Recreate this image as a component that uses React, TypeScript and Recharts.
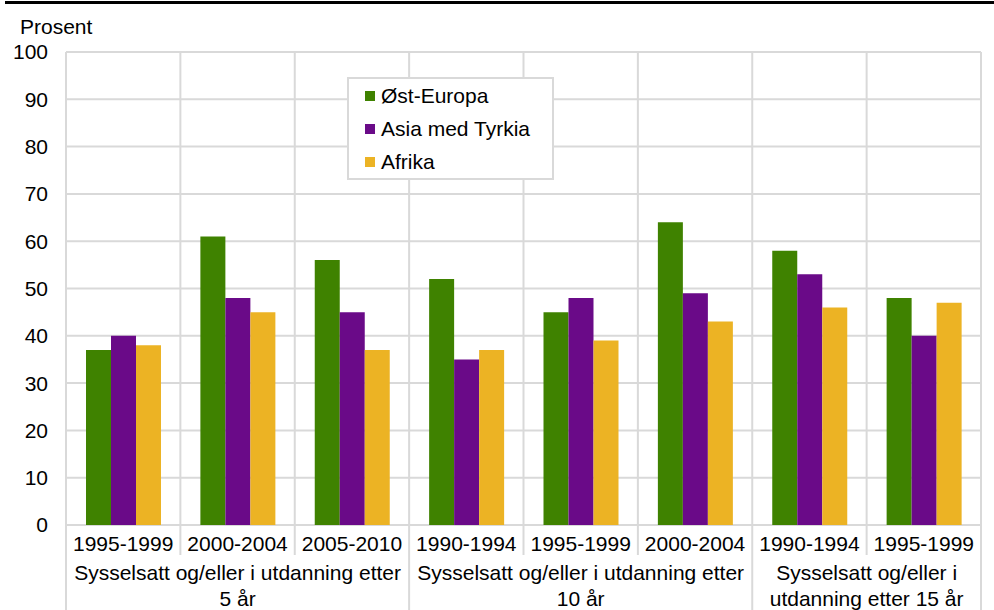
import React from "react";
import { BarChart, Bar, XAxis, YAxis, CartesianGrid, Legend } from "recharts";

const categories = ["1995-1999", "2000-2004", "2005-2010", "1990-1994", "1995-1999", "2000-2004", "1990-1994", "1995-1999"];
const ostEuropa = [37, 61, 56, 52, 45, 64, 58, 48];
const asiaTyrkia = [40, 48, 45, 35, 48, 49, 53, 40];
const afrika = [38, 45, 37, 37, 39, 43, 46, 47];
const yTicks = [0, 10, 20, 30, 40, 50, 60, 70, 80, 90, 100];
const groupLabels = [
  ["Sysselsatt og/eller i utdanning etter", "5 år"],
  ["Sysselsatt og/eller i utdanning etter", "10 år"],
  ["Sysselsatt og/eller i", "utdanning etter 15 år"],
];
const groupSizes = [3, 3, 2];
const seriesNames = ["Øst-Europa", "Asia med Tyrkia", "Afrika"];
const colors = ["#3f8200", "#6a0a88", "#ecb324"];

const data = categories.map((c, i) => ({
  cat: c,
  idx: i,
  ost: ostEuropa[i],
  asia: asiaTyrkia[i],
  afr: afrika[i],
}));

const groupStarts: number[] = [];
{
  let s = 0;
  for (const g of groupSizes) {
    groupStarts.push(s);
    s += g;
  }
}

const W = 994;
const H = 610;
const GRID = "#d9d9d9";
const FONT = "'Liberation Sans', Arial, sans-serif";
const FS = 21;

const CatTick = (props: any) => {
  const { x, y, payload } = props;
  const index: number = payload.index ?? props.index;
  const half: number = payload.offset ?? 57.2;
  const left = x - half;
  const gi = groupStarts.indexOf(index);
  const isLast = index === categories.length - 1;
  return (
    <g>
      <text x={x} y={y + 18} textAnchor="middle" dominantBaseline="central" fontSize={FS} fill="#000" fontFamily={FONT}>
        {payload.value}
      </text>
      <line x1={left} x2={left} y1={y} y2={gi >= 0 ? H : y + 30} stroke={GRID} strokeWidth={2} />
      {isLast && <line x1={x + half} x2={x + half} y1={y} y2={H} stroke={GRID} strokeWidth={2} />}
      {gi >= 0 && (
        <g>
          <text x={left + groupSizes[gi] * half} y={y + 47} textAnchor="middle" dominantBaseline="central" fontSize={FS} fill="#000" fontFamily={FONT}>
            {groupLabels[gi][0]}
          </text>
          <text x={left + groupSizes[gi] * half} y={y + 73} textAnchor="middle" dominantBaseline="central" fontSize={FS} fill="#000" fontFamily={FONT}>
            {groupLabels[gi][1]}
          </text>
        </g>
      )}
    </g>
  );
};

const LegendBox = () => (
  <div
    style={{
      border: `2px solid ${GRID}`,
      background: "#fff",
      padding: "0 0 0 16px",
      width: 187,
      height: 99,
      boxSizing: "content-box",
      fontFamily: FONT,
      fontSize: FS,
    }}
  >
    {seriesNames.map((n, i) => (
      <div key={n} style={{ display: "flex", alignItems: "center", height: 33 }}>
        <span style={{ width: 10, height: 10, background: colors[i], display: "inline-block", marginRight: 6 }} />
        <span style={{ color: "#000" }}>{n}</span>
      </div>
    ))}
  </div>
);

export default function App() {
  return (
    <div style={{ position: "absolute", left: 0, top: 0, width: W, height: H, background: "#fff" }}>
      <div style={{ position: "absolute", left: 5, top: 1, width: W - 5, height: 3, background: "#000" }} />
      <div style={{ position: "absolute", left: 20, top: 15, fontFamily: FONT, fontSize: FS, color: "#000", lineHeight: "24px" }}>
        Prosent
      </div>
      <BarChart
        width={W}
        height={H}
        data={data}
        margin={{ top: 52, right: 13, bottom: 0, left: 0 }}
        barCategoryGap={20}
        barGap={0}
      >
        <CartesianGrid
          stroke={GRID}
          strokeWidth={2}
          horizontal={true}
          vertical={true}
          verticalCoordinatesGenerator={(p: any) => {
            const off = p.offset;
            const n = categories.length;
            return Array.from({ length: n + 1 }, (_, i) => off.left + (i * off.width) / n);
          }}
        />
        <XAxis
          dataKey="cat"
          interval={0}
          axisLine={false}
          tickLine={false}
          tickSize={0}
          tickMargin={0}
          height={85}
          tick={<CatTick />}
        />
        <YAxis
          domain={[0, 100]}
          ticks={yTicks}
          width={66}
          axisLine={false}
          tickLine={false}
          tickSize={0}
          tickMargin={18}
          tick={{ fill: "#000", fontSize: FS, fontFamily: FONT }}
        />
        <Legend
          layout="vertical"
          align="center"
          verticalAlign="middle"
          content={<LegendBox />}
          wrapperStyle={{ position: "absolute", left: 347, top: 77, width: "auto", height: "auto" }}
        />
        <Bar dataKey="ost" name={seriesNames[0]} fill={colors[0]} isAnimationActive={false} />
        <Bar dataKey="asia" name={seriesNames[1]} fill={colors[1]} isAnimationActive={false} />
        <Bar dataKey="afr" name={seriesNames[2]} fill={colors[2]} isAnimationActive={false} />
      </BarChart>
    </div>
  );
}
